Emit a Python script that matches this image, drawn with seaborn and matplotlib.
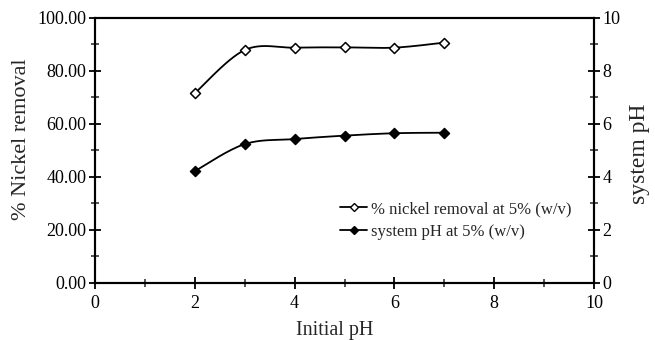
import numpy as np
import pandas as pd
import matplotlib
matplotlib.use("Agg")
import matplotlib.pyplot as plt
from matplotlib.lines import Line2D
from matplotlib.ticker import MultipleLocator, FormatStrFormatter
import seaborn as sns

# ---- data ----
initial_ph = [2, 3, 4, 5, 6, 7]
nickel_removal = [71.5, 87.8, 88.7, 88.8, 88.7, 90.6]
system_ph = [4.21, 5.23, 5.42, 5.55, 5.64, 5.66]
label_removal = "% nickel removal at 5% (w/v)"
label_ph = "system pH at 5% (w/v)"

sns.set_style("ticks")
plt.rcParams["font.family"] = ["Liberation Serif", "DejaVu Serif"]
plt.rcParams["mathtext.fontset"] = "stix"


def smooth(xs, ys, sx, sy, n=30):
    """Excel-like smoothed line (Catmull-Rom Bezier) computed in screen scale."""
    P = np.column_stack([np.asarray(xs, float) * sx, np.asarray(ys, float) * sy])
    out = []
    m = len(P)
    for i in range(m - 1):
        p0 = P[max(i - 1, 0)]
        p1 = P[i]
        p2 = P[i + 1]
        p3 = P[min(i + 2, m - 1)]
        c1 = p1 + (p2 - p0) / 6.0
        c2 = p2 - (p3 - p1) / 6.0
        t = np.linspace(0, 1, n)[:, None]
        seg = ((1 - t) ** 3) * p1 + 3 * ((1 - t) ** 2) * t * c1 + 3 * (1 - t) * t ** 2 * c2 + t ** 3 * p2
        out.append(seg if i == 0 else seg[1:])
    out = np.vstack(out)
    return out[:, 0] / sx, out[:, 1] / sy


fig = plt.figure(figsize=(6.55, 3.4), dpi=100)
ax = fig.add_axes([95 / 655, 1 - 282.7 / 340, (594 - 95) / 655, (282.7 - 17.7) / 340])
ax2 = ax.twinx()

sxr, syr = smooth(initial_ph, nickel_removal, 50, 2.65)
sxp, syp = smooth(initial_ph, system_ph, 50, 26.5)

sns.lineplot(x=sxr, y=syr, ax=ax, color="black", lw=1.3, sort=False, estimator=None)
sns.scatterplot(x=initial_ph, y=nickel_removal, ax=ax, marker="D", s=26,
                facecolor="white", edgecolor="black", linewidth=1.1, zorder=5)
sns.lineplot(x=sxp, y=syp, ax=ax2, color="black", lw=1.3, sort=False, estimator=None)
sns.scatterplot(x=initial_ph, y=system_ph, ax=ax2, marker="D", s=26,
                facecolor="black", edgecolor="black", linewidth=1.1, zorder=5)

ax.set_xlim(0, 10)
ax.set_ylim(0, 100)
ax2.set_ylim(0, 10)

ax.xaxis.set_major_locator(MultipleLocator(2))
ax.xaxis.set_minor_locator(MultipleLocator(1))
ax.yaxis.set_major_locator(MultipleLocator(20))
ax.yaxis.set_minor_locator(MultipleLocator(10))
ax.yaxis.set_major_formatter(FormatStrFormatter("%.2f"))
ax2.yaxis.set_major_locator(MultipleLocator(2))
ax2.yaxis.set_minor_locator(MultipleLocator(1))

for a in (ax, ax2):
    for s in a.spines.values():
        s.set_visible(True)
        s.set_linewidth(1.5)
        s.set_color("black")
    a.tick_params(which="major", direction="inout", length=8, width=1.3, labelsize=13,
                  colors="black", pad=2)
    a.tick_params(which="minor", direction="inout", length=6, width=1.1)
ax.tick_params(axis="x", pad=5)
ax.tick_params(top=False, which="both")

ax.set_xlabel("Initial pH", fontsize=14.5, labelpad=6)
ax.xaxis.label.set_x(0.48)
ax.set_ylabel("% Nickel removal", fontsize=16, labelpad=5)
ax.yaxis.label.set_y(0.542)
ax2.set_ylabel("system pH", fontsize=17, labelpad=6)
ax2.yaxis.label.set_y(0.488)

handles = [
    Line2D([], [], color="black", lw=1.3, marker="D", markersize=4.5,
           markerfacecolor="white", markeredgecolor="black", markeredgewidth=1.0),
    Line2D([], [], color="black", lw=1.3, marker="D", markersize=4.5,
           markerfacecolor="black", markeredgecolor="black"),
]
fig.legend(handles, [label_removal, label_ph], loc="center left",
           bbox_to_anchor=(332 / 655, 1 - 220.5 / 340), frameon=False, fontsize=12,
           handlelength=1.6, handletextpad=0.25, labelspacing=0.4, borderpad=0)

fig.savefig("out.png", dpi=100)
